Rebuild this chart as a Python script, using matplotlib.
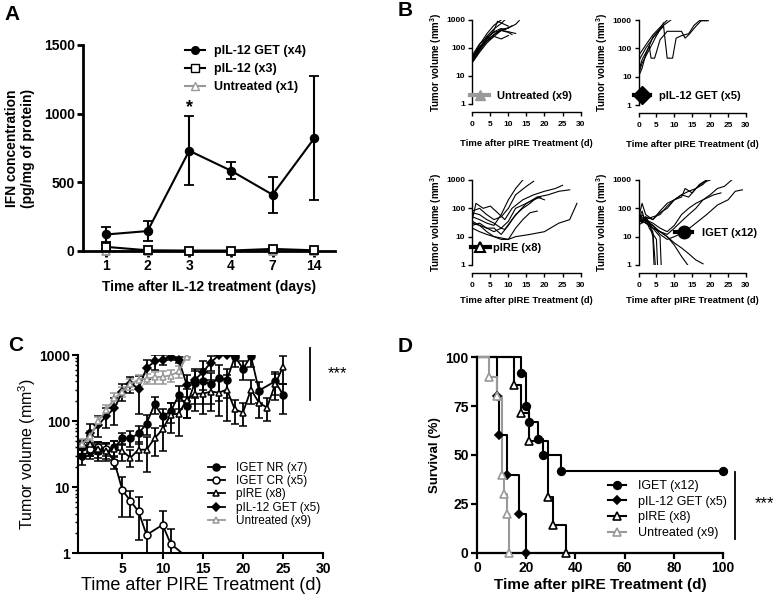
import matplotlib
matplotlib.use('Agg')
import matplotlib.pyplot as plt
from matplotlib.lines import Line2D
from matplotlib.ticker import LogLocator, NullLocator, NullFormatter
import numpy as np

plt.rcParams['font.family'] = ['Liberation Sans', 'DejaVu Sans']
plt.rcParams['mathtext.fontset'] = 'custom'
plt.rcParams['mathtext.rm'] = 'Liberation Sans'
plt.rcParams['mathtext.bf'] = 'Liberation Sans:bold'

GRAY = '#999999'

# ---------------- panel A : IFN concentration ----------------
days_a = ['1', '2', '3', '4', '7', '14']
get_mean = [120, 145, 730, 585, 410, 820]
get_sem = [58, 70, 252, 63, 130, 452]
pil12_mean = [30, 5, 3, 3, 15, 5]
pil12_sem = [15, 0, 0, 0, 6, 0]
untr_a_mean = [1, 1, 1, 1, 1, 1]

# ---------------- panel B : individual tumour growth ----------------
bu_t = [[0, 2, 4, 6, 8], [0, 2, 4, 6, 8, 9], [0, 2, 4, 6, 8, 10, 12, 13],
        [0, 2, 4, 6, 8, 10], [0, 2, 4, 6, 8, 10, 11], [0, 2, 4, 6, 8, 10, 12],
        [0, 2, 4, 6, 7, 10], [0, 2, 4, 6, 8, 10], [0, 2, 4, 6, 8, 9, 11]]
bu_v = [[45, 130, 320, 650, 1000], [40, 100, 260, 480, 750, 1000],
        [50, 110, 200, 300, 420, 520, 700, 950], [35, 80, 170, 300, 460, 520],
        [30, 70, 150, 260, 420, 360, 300], [55, 140, 240, 360, 430, 380, 330],
        [40, 95, 210, 430, 900, 600], [45, 100, 180, 260, 210, 280],
        [32, 85, 220, 380, 500, 450, 620]]

bg_t = [[0, 2, 4, 6, 8], [0, 2, 4, 6, 7, 9], [0, 1, 2, 4, 6, 7],
        [0, 1, 3, 3.5, 4.5, 6, 8, 12, 13, 14, 16, 17.5, 19.5],
        [0, 1, 3, 5, 6, 7, 8, 9.5, 10.5, 12, 14, 15.5, 17, 19]]
bg_v = [[55, 130, 300, 550, 1000], [35, 100, 230, 450, 650, 1000],
        [10, 20, 60, 250, 500, 800],
        [15, 40, 120, 45, 45, 200, 400, 400, 230, 300, 600, 950, 950],
        [12, 30, 90, 280, 450, 600, 45, 45, 230, 280, 330, 650, 950, 950]]

bp_t = [[0, 2, 4, 6, 8, 10, 12, 14], [0, 2, 4, 6, 8, 10, 12, 15, 17],
        [0, 1, 3, 5, 7, 9, 11, 14, 17, 20, 23, 25],
        [0, 2, 4, 6, 8, 10, 12, 15, 18, 21, 24, 27],
        [0, 2, 4, 6, 8, 10, 12, 14, 16, 18, 20],
        [0, 2, 4, 6, 8, 9, 11, 13, 15, 17, 19],
        [0, 2, 4, 6, 8, 10, 12, 14, 16, 18],
        [0, 2, 4, 6, 8, 10, 12, 16, 20, 24, 27, 29]]
bp_v = [[50, 40, 30, 25, 60, 200, 500, 1000], [80, 100, 60, 40, 50, 100, 300, 600, 900],
        [40, 150, 100, 120, 70, 40, 100, 200, 300, 400, 500, 650],
        [30, 25, 20, 15, 20, 35, 100, 150, 250, 300, 400, 450],
        [25, 30, 20, 20, 12, 25, 60, 100, 150, 250, 200],
        [70, 60, 40, 30, 20, 18, 40, 80, 150, 200, 250],
        [20, 15, 12, 10, 9, 8, 20, 40, 70, 80],
        [35, 25, 15, 10, 8, 8, 10, 12, 15, 30, 40, 150]]

bi_t = [[0, 1, 2, 3, 4, 4.5], [0, 1, 2, 3, 4, 5], [0, 1, 2, 3, 5, 5.5],
        [0, 1, 2, 3, 4, 6, 6.5], [0, 1, 2, 4, 6, 8, 10, 12, 14],
        [0, 2, 4, 6, 8, 10, 12, 14, 16, 18],
        [0, 1, 2, 4, 6, 8, 10, 12, 14, 16, 18, 20],
        [0, 2, 4, 6, 8, 10, 12, 13, 15, 17, 19],
        [0, 2, 4, 6, 8, 10, 12, 14, 16, 18, 19],
        [0, 2, 4, 6, 8, 10, 12, 14, 16, 18, 20, 22, 24, 26],
        [0, 2, 4, 6, 8, 10, 13, 16, 19, 22, 25, 27, 29],
        [0, 2, 4, 6, 8, 10, 12, 14, 16, 18, 21, 23]]
bi_v = [[60, 40, 50, 30, 10, 0.3], [40, 80, 30, 25, 15, 0.3], [30, 60, 40, 20, 8, 0.3],
        [70, 35, 45, 30, 20, 10, 0.3], [50, 30, 40, 20, 15, 10, 5, 2, 0.9],
        [35, 40, 25, 15, 10, 6, 4, 2.5, 1.5, 1.1],
        [45, 150, 60, 40, 70, 100, 200, 300, 400, 500, 800, 1000],
        [60, 40, 50, 60, 120, 200, 250, 500, 350, 700, 1000],
        [30, 50, 40, 80, 150, 200, 300, 250, 500, 700, 950],
        [40, 30, 20, 15, 12, 20, 35, 60, 100, 200, 300, 500, 600, 1000],
        [50, 35, 25, 12, 8, 10, 15, 30, 60, 130, 200, 400, 450],
        [25, 40, 30, 20, 15, 25, 60, 100, 150, 200, 300, 350]]

# ---------------- panel C : mean tumour volume ----------------
nr_days = [0, 1, 2, 3, 4, 5, 6, 7, 8, 9, 10, 11, 12, 13, 14, 15, 16, 17, 18, 19, 20, 21, 22, 24, 25]
nr_vol = [30, 35, 35, 37, 40, 55, 55, 65, 92, 180, 118, 140, 245, 170, 380, 400, 360, 450, 420,
          950, 620, 960, 290, 400, 250]
nr_err = [8, 8, 10, 10, 10, 12, 15, 20, 30, 50, 35, 45, 90, 60, 200, 220, 180, 250, 200, 300,
          200, 300, 100, 150, 120]
cr_days = [0, 1, 2, 3, 4, 5, 6, 7, 8, 10, 11, 13]
cr_vol = [40, 38, 40, 38, 24, 9, 6.2, 4.3, 1.9, 2.7, 1.4, 0.88]
cr_err = [8, 8, 8, 8, 5, 5.4, 2.7, 2.7, 1.3, 1.7, 0.9, 0]
pire_days = list(range(26))
pire_vol = [40, 45, 38, 35, 38, 35, 28, 37, 37, 55, 75, 125, 130, 210, 260, 260, 280, 270, 300,
            150, 135, 300, 190, 160, 360, 670]
pire_err = [10, 15, 10, 10, 12, 10, 8, 12, 20, 25, 40, 60, 70, 100, 120, 130, 140, 150, 200, 60,
            50, 120, 80, 60, 150, 300]
pget_days = list(range(20))
pget_vol = [42, 66, 88, 120, 157, 280, 370, 310, 635, 800, 850, 950, 850, 355, 420, 550, 770,
            1000, 1000, 980]
pget_err = [10, 25, 30, 40, 70, 80, 100, 180, 200, 200, 150, 100, 100, 150, 200, 250, 200, 0, 0, 0]
untr_days = list(range(14))
untr_vol = [45, 60, 100, 148, 223, 280, 363, 425, 440, 460, 470, 490, 565, 950]
untr_err = [8, 10, 15, 25, 40, 50, 70, 80, 80, 90, 100, 100, 120, 0]

# ---------------- panel D : survival ----------------
surv_iget_t = [0, 18, 20, 21, 25, 27, 34, 100]
surv_iget = [100, 91.7, 75, 66.7, 58.3, 50, 41.7, 41.7]
surv_pget_t = [0, 8, 9, 12, 17, 20]
surv_pget = [100, 80, 60, 40, 20, 0]
surv_pire_t = [0, 15, 18, 21, 29, 31, 36]
surv_pire = [100, 85.7, 71.4, 57.1, 28.6, 14.3, 0]
surv_untr_t = [0, 5, 8, 10, 11, 12, 13]
surv_untr = [100, 90, 80, 40, 30, 20, 0]


def style(ax, lw=1.6, size=10, bold=True):
    for s in ['top', 'right']:
        ax.spines[s].set_visible(False)
    for s in ['left', 'bottom']:
        ax.spines[s].set_linewidth(lw)
    ax.tick_params(width=lw, length=4, labelsize=size, pad=2)
    ax.tick_params(which='minor', width=lw * 0.7, length=2.5)
    if bold:
        for lbl in ax.get_xticklabels() + ax.get_yticklabels():
            lbl.set_fontweight('bold')


fig = plt.figure(figsize=(7.78, 5.98), dpi=100)

# ---- A ----
axA = fig.add_axes([0.1067, 0.5803, 0.3239, 0.3445])
xa = np.arange(len(days_a))
eb = dict(lw=1.5, elinewidth=1.5, capsize=3.5, capthick=1.5, ms=5.5, mew=1.3, clip_on=False)
axA.errorbar(xa, untr_a_mean, color=GRAY, marker='^', mfc='white', zorder=2, **eb)
axA.errorbar(xa, pil12_mean, yerr=pil12_sem, color='k', marker='s', mfc='white', zorder=3, **eb)
axA.errorbar(xa, get_mean, yerr=get_sem, color='k', marker='o', zorder=4, **eb)
axA.text(xa[2], get_mean[2] + get_sem[2] + 60, '*', ha='center', va='center',
         fontsize=13, fontweight='bold')
axA.set_xlim(-0.55, 5.5)
axA.set_ylim(0, 1500)
axA.set_yticks([0, 500, 1000, 1500])
axA.set_xticks(xa, days_a)
axA.set_ylabel('IFN concentration\n(pg/mg of protein)', fontsize=10, fontweight='bold',
               labelpad=6)
axA.set_xlabel('Time after IL-12 treatment (days)', fontsize=10, fontweight='bold', labelpad=5)
style(axA, lw=2.0)
hA = [Line2D([], [], color='k', marker='o', ms=5.5, lw=1.5),
      Line2D([], [], color='k', marker='s', mfc='white', ms=5.5, lw=1.5),
      Line2D([], [], color=GRAY, marker='^', mfc='white', ms=5.5, lw=1.5)]
axA.legend(hA, ['pIL-12 GET (x4)', 'pIL-12 (x3)', 'Untreated (x1)'], loc='upper left',
           bbox_to_anchor=(0.405, 1.0), frameon=False, borderpad=0, borderaxespad=0,
           handlelength=1.6, handletextpad=0.7, labelspacing=0.5,
           prop={'size': 9, 'weight': 'bold'})

# ---- B ----
b_specs = [
    ([0.6071, 0.8261, 0.1391, 0.1405], bu_t, bu_v,
     Line2D([], [], color=GRAY, marker='^', ms=7, lw=3), 'Untreated (x9)', (-0.02, 0.10), 1.7, 0.7, 8),
    ([0.8207, 0.8244, 0.1382, 0.1421], bg_t, bg_v,
     Line2D([], [], color='k', marker='D', ms=9, lw=3), 'pIL-12 GET (x5)', (-0.04, 0.11), 1.4, 0.85, 8),
    ([0.6071, 0.5569, 0.1391, 0.1421], bp_t, bp_v,
     Line2D([], [], color='k', marker='^', mfc='white', mew=1.5, ms=7, lw=3), 'pIRE (x8)', (-0.015, 0.20), 1.7, 0.3, 5),
    ([0.8207, 0.5569, 0.1382, 0.1421], bi_t, bi_v,
     Line2D([], [], color='k', marker='o', ms=9, lw=3), 'IGET (x12)', (0.336, 0.38), 1.6, 0.85, 5),
]
for rect, ts, vs, handle, label, anchor, hl, htp, xpad in b_specs:
    ax = fig.add_axes(rect)
    for t, v in zip(ts, vs):
        ax.plot(t, v, color='k', lw=0.8)
    ax.set_yscale('log')
    ax.set_ylim(1, 1000)
    ax.set_xlim(0, 30)
    ax.set_yticks([1, 10, 100, 1000], ['1', '10', '100', '1000'])
    ax.yaxis.set_minor_locator(NullLocator())
    ax.set_xticks(range(0, 31, 5))
    ax.spines['bottom'].set_position(('outward', 6))
    ax.set_ylabel('Tumor volume (mm$^\\mathbf{3}$)', fontsize=7, fontweight='bold', labelpad=2)
    ax.set_xlabel('Time after pIRE Treatment (d)', fontsize=6.8, fontweight='bold', labelpad=xpad)
    style(ax, lw=1.0, size=6)
    ax.tick_params(length=3)
    ax.tick_params(axis='x', pad=3)
    ax.legend([handle], [label], loc='center left', bbox_to_anchor=anchor, frameon=False,
              borderpad=0, borderaxespad=0, handlelength=hl, handletextpad=htp,
              prop={'size': 8, 'weight': 'bold'})

# ---- C ----
axC = fig.add_axes([0.1006, 0.0747, 0.3149, 0.3316])
c_series = [
    (nr_days, nr_vol, nr_err, 'o', 'k', 'k', 'IGET NR (x7)'),
    (cr_days, cr_vol, cr_err, 'o', 'white', 'k', 'IGET CR (x5)'),
    (pire_days, pire_vol, pire_err, '^', 'white', 'k', 'pIRE (x8)'),
    (pget_days, pget_vol, pget_err, 'D', 'k', 'k', 'pIL-12 GET (x5)'),
    (untr_days, untr_vol, untr_err, '^', 'white', GRAY, 'Untreated (x9)'),
]
hC = []
for d, v, e, m, fc, col, lab in c_series:
    v = np.array(v, float)
    e = np.array(e, float)
    lower = np.minimum(e, v * 0.999)
    ms = 4.2 if m == 'D' else 5
    keep = [i for i in range(len(v)) if v[i] >= 1]
    axC.errorbar(d, v, yerr=[lower, e], color=col, marker=m, mfc=fc, mec=col, ms=ms,
                 mew=1.1, lw=1.3, elinewidth=1.3, capsize=3, capthick=1.3, markevery=keep)
    hC.append(Line2D([], [], color=col, marker=m, mfc=fc, mec=col, ms=ms, mew=1.1, lw=1.3))
axC.set_yscale('log')
axC.set_ylim(1, 1000)
axC.set_xlim(-0.5, 30)
axC.set_xticks(range(5, 31, 5))
axC.set_yticks([1, 10, 100, 1000], ['1', '10', '100', '1000'])
axC.yaxis.set_minor_locator(LogLocator(base=10, subs=np.arange(2, 10)))
axC.yaxis.set_minor_formatter(NullFormatter())
axC.set_ylabel('Tumor volume (mm$^\\mathrm{3}$)', fontsize=11.5, labelpad=1)
axC.set_xlabel('Time after PIRE Treatment (d)', fontsize=13, labelpad=1)
style(axC, lw=1.5, size=10)
axC.legend(hC, [s[-1] for s in c_series], loc='upper left', bbox_to_anchor=(0.53, 0.46),
           frameon=False, borderpad=0, borderaxespad=0, handlelength=1.4,
           handletextpad=1.0, labelspacing=0.1, prop={'size': 8.5})
axC.plot([0.946, 0.946], [0.773, 1.035], transform=axC.transAxes, color='k', lw=1.3,
         clip_on=False)
axC.text(1.06, 0.905, '***', transform=axC.transAxes, ha='center', va='center',
         fontsize=12, clip_on=False)

# ---- D ----
axD = fig.add_axes([0.6131, 0.0758, 0.3162, 0.3268])
d_series = [
    (surv_iget_t, surv_iget, 'o', 'k', 'k', 'IGET (x12)'),
    (surv_pget_t, surv_pget, 'D', 'k', 'k', 'pIL-12 GET (x5)'),
    (surv_pire_t, surv_pire, '^', 'white', 'k', 'pIRE (x8)'),
    (surv_untr_t, surv_untr, '^', 'white', GRAY, 'Untreated (x9)'),
]
hD = []
for t, s, m, fc, col, lab in d_series:
    ms = 4.5 if m == 'D' else 5.5
    axD.step(t, s, where='post', color=col, lw=1.5, clip_on=False)
    axD.plot(t[1:], s[1:], ls='none', marker=m, mfc=fc, mec=col, ms=ms, mew=1.2,
             clip_on=False, zorder=3)
    hD.append(Line2D([], [], color=col, marker=m, mfc=fc, mec=col, ms=ms, mew=1.2, lw=1.5))
axD.set_xlim(0, 100)
axD.set_ylim(0, 100)
axD.set_xticks(range(0, 101, 20))
axD.set_yticks([0, 25, 50, 75, 100])
axD.set_ylabel('Survival (%)', fontsize=9.5, fontweight='bold', labelpad=3)
axD.set_xlabel('Time after pIRE Treatment (d)', fontsize=11, fontweight='bold', labelpad=2)
style(axD, lw=1.6, size=10)
axD.legend(hD, [s[-1] for s in d_series], loc='upper left', bbox_to_anchor=(0.533, 0.372),
           frameon=False, borderpad=0, borderaxespad=0, handlelength=1.4,
           handletextpad=1.0, labelspacing=0.3, prop={'size': 9})
axD.plot([1.049, 1.049], [0.07, 0.413], transform=axD.transAxes, color='k', lw=1.3,
         clip_on=False)
axD.text(1.17, 0.25, '***', transform=axD.transAxes, ha='center', va='center',
         fontsize=12, clip_on=False)

# panel letters
for x, y, s in [(0.006, 0.975, 'A'), (0.511, 0.983, 'B'), (0.01, 0.423, 'C'), (0.511, 0.421, 'D')]:
    fig.text(x, y, s, fontsize=15, fontweight='bold', va='center')

fig.savefig('out.png', dpi=100)
